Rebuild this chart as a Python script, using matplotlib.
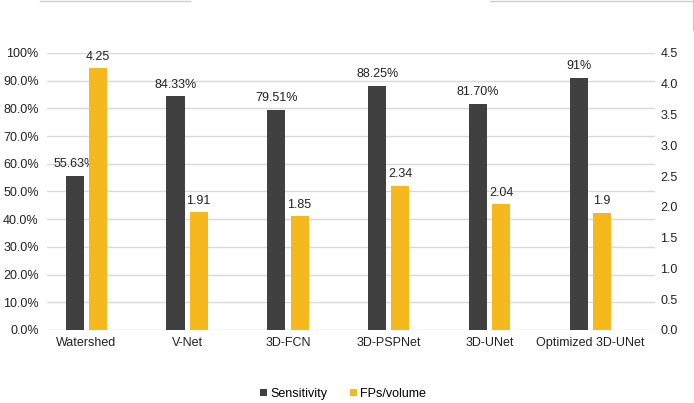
import numpy as np
import matplotlib
matplotlib.use('Agg')
from matplotlib import pyplot as plt
from matplotlib.lines import Line2D

plt.rcParams['font.family'] = ['Liberation Sans', 'DejaVu Sans']

# data
models = ['Watershed', 'V-Net', '3D-FCN', '3D-PSPNet', '3D-UNet', 'Optimized 3D-UNet']
sensitivity = [55.63, 84.33, 79.51, 88.25, 81.70, 91.0]
sens_labels = ['55.63%', '84.33%', '79.51%', '88.25%', '81.70%', '91%']
fps = [4.25, 1.91, 1.85, 2.34, 2.04, 1.9]
fps_labels = ['4.25', '1.91', '1.85', '2.34', '2.04', '1.9']
left_ticks = ['0.0%', '10.0%', '20.0%', '30.0%', '40.0%', '50.0%',
              '60.0%', '70.0%', '80.0%', '90.0%', '100%']

dark = '#404040'
yellow = '#F5B91E'

fig = plt.figure(figsize=(6.94, 4.03), dpi=100)
ax = fig.add_axes([47/694, 1 - 330/403, (655 - 47)/694, (330 - 53)/403])
ax2 = ax.twinx()

x = np.arange(len(models))
w = 0.18
b1 = ax.bar(x - 0.115, sensitivity, w, color=dark, label='Sensitivity', zorder=3)
b2 = ax2.bar(x + 0.115, fps, w, color=yellow, label='FPs/volume', zorder=3)

ax.set_ylim(0, 100)
ax.set_yticks(np.arange(0, 101, 10))
ax.set_yticklabels(left_ticks)
ax2.set_ylim(0, 4.5)
ax2.set_yticks(np.arange(0, 4.51, 0.5))
ax2.set_yticklabels(['%.1f' % v for v in np.arange(0, 4.51, 0.5)])
ax.set_xlim(-0.39, 5.64)
ax.set_xticks(x)
ax.set_xticklabels(models)

ax.grid(axis='y', color='#d9d9d9', linewidth=1, zorder=0)
for a in (ax, ax2):
    for s in a.spines.values():
        s.set_visible(False)
    a.tick_params(length=0, labelsize=9, colors='#222222')
ax.tick_params(axis='y', pad=6)
ax.tick_params(axis='x', pad=5)
ax2.tick_params(axis='y', pad=4)

ax.bar_label(b1, labels=sens_labels, padding=4, fontsize=9, color='#222222')
ax2.bar_label(b2, labels=fps_labels, padding=4, fontsize=9, color='#222222')

h1, l1 = ax.get_legend_handles_labels()
h2, l2 = ax2.get_legend_handles_labels()
fig.legend(h1 + h2, l1 + l2, loc='center', bbox_to_anchor=(343/694, 1 - 394/403),
           ncol=2, frameon=False, fontsize=9, handlelength=0.55, handleheight=0.55,
           handletextpad=0.3, columnspacing=1.8, borderpad=0)

# thin gray lines at the top edge of the picture
fig.add_artist(Line2D([40/694, 190/694], [0.998, 0.998], color='#cccccc', lw=1))
fig.add_artist(Line2D([490/694, 1.0], [0.998, 0.998], color='#cccccc', lw=1))
fig.add_artist(Line2D([0.999, 0.999], [1.0, 1 - 30/403], color='#cccccc', lw=1))

plt.savefig('out.png', dpi=100)
